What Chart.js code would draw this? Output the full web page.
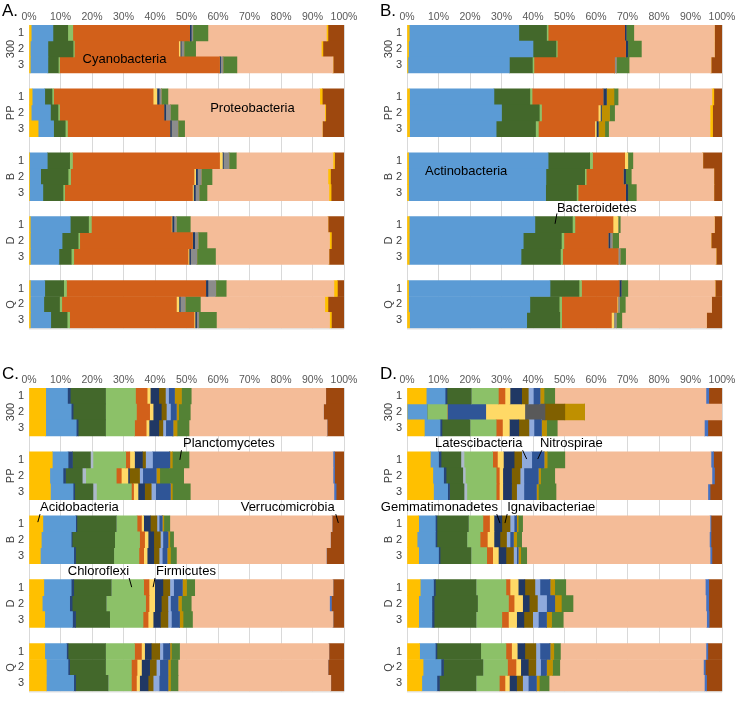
<!DOCTYPE html>
<html>
<head>
<meta charset="utf-8">
<script src="https://cdn.jsdelivr.net/npm/chart.js@4.4.0/dist/chart.umd.min.js"></script>
<style>
  body { margin: 0; background: #fff; }
  .panel { position: absolute; width: 362px; height: 340px; }
</style>
</head>
<body>
<div class="panel" style="left:0;top:0"><canvas id="chartA" width="362" height="340"></canvas></div>
<div class="panel" style="left:378px;top:0"><canvas id="chartB" width="362" height="340"></canvas></div>
<div class="panel" style="left:0;top:363px"><canvas id="chartC" width="362" height="340"></canvas></div>
<div class="panel" style="left:378px;top:363px"><canvas id="chartD" width="362" height="340"></canvas></div>
<script>
// sample groups and replicates (rows, top to bottom)
const groups = ["300", "PP", "B", "D", "Q"];
const replicates = ["1", "2", "3"];
const xTicks = [0, 10, 20, 30, 40, 50, 60, 70, 80, 90, 100];

// stack order for panels A and B
const phylaAB = ["Acidobacteria", "Actinobacteria", "Bacteroidetes", "Chloroflexi", "Cyanobacteria",
  "Firmicutes", "Gemmatimonadetes", "Other 3", "Other 4", "Planctomycetes", "Proteobacteria",
  "Other 5", "Verrucomicrobia"];

// stack order for panels C and D
const phylaCD = ["Acidobacteria", "Actinobacteria", "Other 1", "Bacteroidetes", "Other 2", "Chloroflexi",
  "Cyanobacteria", "Firmicutes", "Gemmatimonadetes", "Ignavibacteriae", "Latescibacteria", "Nitrospirae",
  "Other 7", "Other 8", "Other 9", "Other 4", "Planctomycetes", "Proteobacteria", "Other 6", "Verrucomicrobia"];

// relative abundance (%), one row per sample, values in phylaAB order
const panelA = [
  [0.7, 6.9, 4.7, 1.6, 37.1, 0, 0.5, 0.5, 0, 4.8, 37.6, 0.5, 5.1],
  [0.4, 5.6, 8.0, 0.4, 33.1, 0.5, 0.3, 0.9, 0, 3.7, 39.9, 0.5, 6.7],
  [0.4, 5.6, 3.3, 0.4, 50.8, 0, 0.3, 0.8, 0, 4.4, 30.5, 0, 3.5],
  [1.0, 4.0, 2.3, 0.5, 31.6, 1.2, 0.7, 0.7, 0, 2.1, 48.2, 0.8, 6.9],
  [0.7, 6.1, 2.4, 0.5, 33.1, 0, 0.6, 1.5, 0, 2.4, 46.6, 0.3, 5.8],
  [2.9, 4.9, 3.7, 0.7, 32.5, 0, 0.5, 2.1, 0, 2.1, 43.7, 0, 6.9],
  [0.2, 5.6, 7.1, 0.9, 46.7, 0.9, 0.3, 1.8, 0, 2.3, 30.7, 0.5, 3.0],
  [0.2, 3.5, 8.7, 0.8, 39.2, 0.5, 0.6, 1.2, 0, 3.4, 36.8, 0.8, 4.3],
  [0.2, 4.2, 6.4, 0.5, 40.6, 0.3, 0.6, 1.2, 0, 2.5, 38.7, 0.7, 4.1],
  [0.4, 12.7, 5.8, 0.9, 25.4, 0.2, 0.6, 0.8, 0, 4.4, 43.7, 0, 5.1],
  [0.4, 10.1, 5.1, 0.5, 35.8, 0, 0.7, 1.1, 0, 2.8, 38.9, 0.6, 4.0],
  [0.4, 9.1, 3.9, 0.8, 36.3, 0.3, 0.5, 2.0, 0, 5.9, 36.0, 0, 4.8],
  [0.4, 4.6, 6.0, 0.9, 44.2, 0, 0.7, 2.5, 0, 3.3, 34.2, 1.1, 2.1],
  [0.4, 4.3, 5.0, 0.7, 36.4, 0.8, 0.4, 1.6, 0, 4.8, 39.5, 1.0, 5.1],
  [0.4, 6.5, 5.2, 0.8, 39.5, 0.3, 0.5, 0.7, 0, 5.6, 35.9, 0.6, 4.0]
];

const panelB = [
  [0.7, 34.8, 8.8, 0.5, 24.3, 0, 0.5, 0, 0, 2.4, 25.6, 0, 2.4],
  [0.5, 39.5, 7.3, 0.4, 21.7, 0, 0.7, 0, 0, 4.3, 23.2, 0, 2.4],
  [0.3, 32.2, 7.3, 0.5, 25.6, 0, 0, 0.6, 0, 4.0, 26.0, 0, 3.5],
  [0.8, 26.8, 11.4, 0.7, 22.5, 0, 1.1, 0, 2.4, 1.3, 29.8, 0.6, 2.6],
  [0.8, 29.2, 12.0, 0.7, 18.0, 0.7, 0.3, 0, 2.6, 1.6, 30.3, 0.8, 3.0],
  [0.8, 27.5, 12.5, 0.9, 17.9, 0.5, 0.6, 0, 2.1, 1.2, 32.2, 0.8, 3.0],
  [0.5, 44.3, 13.2, 0.9, 10.2, 1.0, 0, 0, 0, 1.6, 22.2, 0, 6.1],
  [0.5, 43.6, 12.3, 0.5, 11.7, 0, 0.8, 0, 0, 1.8, 26.2, 0, 2.6],
  [0.5, 43.5, 9.8, 0.5, 15.1, 0, 0.7, 0, 0, 2.7, 24.6, 0, 2.6],
  [0.7, 39.9, 11.9, 0.8, 12.1, 1.6, 0, 0, 0, 0.7, 29.9, 0, 2.4],
  [0.7, 36.2, 12.1, 0.8, 14.0, 0, 0.6, 0.8, 0, 2.0, 29.3, 0, 3.5],
  [0.7, 35.5, 12.5, 0.7, 17.6, 0, 0, 0.7, 0, 1.7, 28.7, 0, 1.9],
  [0.5, 44.9, 9.2, 0.8, 11.9, 0, 0.7, 0, 0, 2.1, 27.7, 0, 2.2],
  [0.5, 38.5, 9.3, 0.8, 17.6, 0.3, 0, 0.5, 0, 1.8, 27.4, 0, 3.3],
  [0.8, 37.2, 10.5, 0.6, 15.8, 0.8, 0, 0.8, 0, 1.7, 26.9, 0, 4.9]
];

// values in phylaCD order
const panelC = [
  [5.3, 6.9, 0.9, 11.2, 0, 9.5, 3.7, 1.0, 2.7, 2.1, 1.0, 1.9, 0, 0, 0, 2.2, 3.1, 42.7, 0, 5.8],
  [5.3, 8.1, 0.6, 10.3, 0, 9.8, 4.2, 1.1, 2.6, 1.6, 1.3, 1.9, 0, 0, 0, 0.7, 3.7, 42.3, 0, 6.5],
  [5.3, 9.7, 0.6, 8.7, 0, 9.2, 3.7, 0.9, 3.1, 1.3, 0.9, 2.3, 0, 0, 0, 1.3, 3.8, 43.8, 0, 5.4],
  [7.4, 5.0, 1.4, 5.7, 0.8, 10.4, 1.3, 1.5, 2.5, 1.0, 2.2, 5.5, 0, 0, 0, 0.8, 5.3, 45.7, 0.5, 3.0],
  [6.6, 4.2, 0.8, 5.3, 1.1, 9.7, 1.6, 2.1, 0.5, 3.2, 1.0, 4.3, 0, 0, 0, 1.1, 7.6, 47.4, 0.5, 3.0],
  [6.8, 7.2, 0.5, 5.8, 1.1, 11.1, 0.7, 1.4, 2.1, 2.1, 1.4, 4.7, 0, 0, 0, 0.6, 5.7, 45.6, 0.7, 2.5],
  [4.4, 10.4, 0.4, 12.5, 0, 6.6, 1.4, 0.7, 2.1, 2.1, 0.7, 1.0, 0, 0, 0, 0.5, 1.9, 51.5, 0, 3.8],
  [3.9, 9.5, 0.3, 13.5, 0, 7.9, 1.6, 1.1, 1.8, 2.1, 0.8, 1.6, 0, 0, 0, 0.6, 1.2, 49.8, 0, 4.3],
  [3.6, 10.6, 0.6, 12.1, 0, 8.0, 1.5, 1.1, 2.1, 1.7, 1.0, 1.5, 0, 0, 0, 1.1, 1.9, 47.6, 0, 5.6],
  [4.7, 8.7, 0.8, 11.9, 0, 10.3, 1.7, 1.8, 2.6, 2.2, 1.2, 2.8, 0, 0, 0, 1.3, 2.6, 43.9, 0, 3.5],
  [4.2, 8.7, 0.8, 10.8, 0, 12.5, 1.1, 1.8, 2.1, 2.1, 0.8, 2.4, 0, 0, 0, 1.1, 3.1, 43.9, 0.6, 4.0],
  [5.0, 8.8, 1.0, 10.8, 0, 10.6, 1.6, 1.6, 2.3, 2.4, 1.1, 2.6, 0, 0, 0, 1.1, 3.0, 44.6, 0, 3.5],
  [5.0, 6.9, 0.5, 11.9, 0, 9.2, 2.2, 1.0, 2.1, 2.7, 1.0, 2.2, 0, 0, 0, 0.5, 2.6, 47.4, 0, 4.8],
  [5.5, 6.9, 0.5, 11.4, 0, 8.2, 1.8, 1.4, 2.6, 2.1, 1.1, 2.6, 0, 0, 0, 0.8, 2.4, 47.6, 0, 5.1],
  [5.5, 8.7, 0.6, 10.3, 0, 7.4, 1.6, 1.0, 2.7, 1.6, 1.9, 2.8, 0, 0, 0, 0.8, 2.4, 48.5, 0, 4.2]
];

const panelD = [
  [6.1, 6.0, 0.6, 7.7, 0, 8.6, 2.1, 1.6, 3.7, 2.1, 1.6, 2.1, 0, 0, 0, 1.3, 3.4, 48.0, 0.9, 4.2],
  [0, 6.3, 0, 0, 0, 6.4, 0, 0, 0, 0, 0, 12.3, 12.4, 6.4, 6.3, 6.3, 0, 43.6, 0, 0],
  [5.5, 5.0, 0.6, 8.9, 0, 8.3, 2.0, 2.2, 3.0, 3.2, 1.6, 2.4, 0, 0, 0, 1.6, 3.4, 46.7, 1.1, 4.5],
  [7.4, 2.6, 0.8, 6.3, 1.0, 9.1, 1.5, 1.9, 3.4, 2.4, 3.2, 3.9, 0, 0, 0, 1.0, 5.6, 46.4, 0.8, 2.7],
  [8.2, 3.4, 0.8, 5.3, 0.8, 9.8, 1.0, 1.1, 2.8, 2.7, 1.2, 4.6, 0, 0, 0, 0.7, 4.5, 49.9, 0.8, 2.4],
  [8.4, 4.5, 0.6, 4.6, 0.9, 9.3, 1.0, 1.1, 2.8, 1.6, 2.3, 4.0, 0, 0, 0, 0.6, 5.6, 48.2, 0.7, 3.8],
  [3.7, 5.3, 0.5, 10.0, 0, 4.6, 2.1, 1.4, 2.5, 2.6, 1.3, 0.8, 0, 0, 0, 0.5, 1.4, 59.5, 0.3, 3.5],
  [3.2, 5.8, 0.5, 9.5, 0, 4.2, 2.3, 2.1, 1.9, 2.1, 1.1, 1.1, 0, 0, 0, 1.0, 1.6, 59.6, 0.5, 3.5],
  [3.7, 6.3, 0.5, 9.8, 0, 5.0, 1.9, 1.8, 2.4, 2.4, 1.0, 0.5, 0, 0, 0, 0.8, 1.9, 58.2, 0.6, 3.2],
  [4.2, 4.2, 0.6, 12.9, 0, 9.5, 1.3, 2.6, 2.1, 3.2, 1.6, 3.2, 0, 0, 0, 1.5, 3.5, 44.3, 1.1, 4.2],
  [3.7, 4.2, 0.7, 13.8, 0, 9.8, 1.8, 2.7, 2.1, 2.6, 2.9, 2.6, 0, 0, 0, 2.1, 3.7, 42.2, 0.9, 4.2],
  [3.7, 4.2, 0.7, 13.3, 0, 8.2, 2.1, 2.6, 2.3, 2.8, 1.8, 2.6, 0, 0, 0, 1.6, 3.7, 45.5, 0.8, 4.1],
  [4.0, 5.0, 0.5, 13.9, 0, 8.0, 1.8, 1.8, 2.4, 3.5, 1.3, 3.2, 0, 0, 0, 1.2, 2.1, 46.2, 0.6, 4.5],
  [5.1, 5.7, 0.8, 12.5, 0, 7.8, 2.7, 1.5, 2.4, 2.4, 1.5, 1.9, 0, 0, 0, 1.9, 2.3, 45.6, 0.6, 5.3],
  [4.7, 4.8, 0.8, 11.6, 0, 7.4, 1.8, 1.4, 2.3, 1.9, 1.8, 2.6, 0, 0, 0, 0.9, 3.1, 49.3, 0.7, 4.9]
];

const phylumColors = {
  "Acidobacteria": "#FFC000", "Actinobacteria": "#5B9BD5", "Other 1": "#264478",
  "Bacteroidetes": "#43682B", "Other 2": "#ADB9CA", "Chloroflexi": "#8CC168",
  "Cyanobacteria": "#D2601A", "Firmicutes": "#FFD966", "Gemmatimonadetes": "#203864",
  "Other 3": "#8C8C8C", "Ignavibacteriae": "#7F6000", "Latescibacteria": "#8FAADC",
  "Nitrospirae": "#2F5597", "Other 4": "#BF9000", "Planctomycetes": "#548235",
  "Proteobacteria": "#F4BC98", "Other 5": "#FFC000", "Other 6": "#4472C4",
  "Other 7": "#FFD966", "Other 8": "#595959", "Other 9": "#806000",
  "Verrucomicrobia": "#9E480E"
};

// callout labels: x in %, y as fractional row slot; optional leader line
const notesA = [
  { text: "Cyanobacteria", x: 17, y: 1.66 },
  { text: "Proteobacteria", x: 57.5, y: 4.7 }
];
const notesB = [
  { text: "Actinobacteria", x: 5.7, y: 8.7 },
  { text: "Bacteroidetes", x: 47.6, y: 11, line: [47.6, 11.3, 47.0, 11.95] }
];
const notesC = [
  { text: "Planctomycetes", x: 48.9, y: 3, line: [48.4, 3.4, 47.9, 4.0] },
  { text: "Acidobacteria", x: 3.5, y: 7, line: [3.5, 7.4, 2.8, 7.9] },
  { text: "Verrucomicrobia", x: 67.2, y: 7, line: [97.4, 7.4, 98.2, 7.95] },
  { text: "Chloroflexi", x: 12.3, y: 11, line: [31.8, 11.4, 32.6, 11.97] },
  { text: "Firmicutes", x: 40.3, y: 11, line: [40.0, 11.4, 39.4, 11.97] }
];
const notesD = [
  { text: "Latescibacteria", x: 8.9, y: 3, line: [36.7, 3.4, 38.0, 3.95] },
  { text: "Nitrospirae", x: 42.2, y: 3, line: [42.8, 3.4, 41.5, 3.95] },
  { text: "Gemmatimonadetes", x: -8.3, y: 7, line: [28.5, 7.4, 29.5, 7.96] },
  { text: "Ignavibacteriae", x: 31.8, y: 7, line: [31.8, 7.4, 31.1, 7.96] }
];

Chart.defaults.font.family = "'Liberation Sans', Arial, sans-serif";

// 19 row slots: 3 replicates per group with an empty slot between groups
function buildSlots() {
  const slots = [];
  groups.forEach((g, gi) => {
    replicates.forEach((r, ri) => slots.push({ label: r, row: gi * 3 + ri }));
    if (gi < groups.length - 1) slots.push({ label: "", row: null });
  });
  return slots;
}

const panelDecor = {
  id: "panelDecor",
  afterDraw(chart, args, opts) {
    const ctx = chart.ctx;
    const xs = chart.scales.x;
    const ys = chart.scales.y;
    const area = chart.chartArea;
    ctx.save();
    // bottom rule
    ctx.strokeStyle = "#D9D9D9";
    ctx.lineWidth = 1;
    ctx.beginPath();
    ctx.moveTo(area.left, area.bottom + 0.5);
    ctx.lineTo(area.right, area.bottom + 0.5);
    ctx.stroke();
    // panel letter
    ctx.fillStyle = "#000";
    ctx.font = "17px 'Liberation Sans', Arial, sans-serif";
    ctx.textAlign = "left";
    ctx.textBaseline = "alphabetic";
    ctx.fillText(opts.letter, 2, 16);
    // group labels, rotated
    ctx.font = "11px 'Liberation Sans', Arial, sans-serif";
    ctx.fillStyle = "#404040";
    ctx.textAlign = "center";
    ctx.textBaseline = "middle";
    groups.forEach((g, gi) => {
      const y = ys.getPixelForValue(gi * 4 + 1);
      ctx.save();
      ctx.translate(11, y);
      ctx.rotate(-Math.PI / 2);
      ctx.fillText(g, 0, 0);
      ctx.restore();
    });
    // callouts
    ctx.font = "13px 'Liberation Sans', Arial, sans-serif";
    ctx.fillStyle = "#000";
    ctx.strokeStyle = "#000";
    ctx.textAlign = "left";
    opts.notes.forEach(n => {
      ctx.fillText(n.text, xs.getPixelForValue(n.x), ys.getPixelForValue(n.y));
      if (n.line) {
        ctx.beginPath();
        ctx.moveTo(xs.getPixelForValue(n.line[0]), ys.getPixelForValue(n.line[1]));
        ctx.lineTo(xs.getPixelForValue(n.line[2]), ys.getPixelForValue(n.line[3]));
        ctx.stroke();
      }
    });
    ctx.restore();
  }
};

function makeChart(id, letter, phyla, rows, notes) {
  const slots = buildSlots();
  const datasets = phyla.map((name, j) => ({
    label: name,
    data: slots.map(s => (s.row === null ? null : rows[s.row][j])),
    backgroundColor: phylumColors[name],
    borderWidth: 0,
    barPercentage: 1,
    categoryPercentage: 1
  }));

  return new Chart(document.getElementById(id), {
    type: "bar",
    data: { labels: slots.map(s => s.label), datasets },
    plugins: [panelDecor],
    options: {
      indexAxis: "y",
      responsive: false,
      animation: false,
      layout: { padding: { left: 0, right: 18, top: 0, bottom: 7 } },
      scales: {
        x: {
          position: "top",
          stacked: true,
          min: 0,
          max: 100,
          afterBuildTicks: scale => { scale.ticks = xTicks.map(v => ({ value: v })); },
          afterFit: scale => { scale.height = 25; },
          ticks: {
            padding: 2, color: "#595959", font: { size: 10.5 },
            maxRotation: 0, minRotation: 0, autoSkip: false,
            callback: v => v + "%"
          },
          grid: { color: "#D9D9D9", drawTicks: false },
          border: { display: false }
        },
        y: {
          stacked: true,
          afterFit: scale => { scale.width = 29; },
          ticks: { autoSkip: false, padding: 5, color: "#404040", font: { size: 11 } },
          grid: { display: false, drawTicks: false },
          border: { display: false }
        }
      },
      plugins: {
        legend: { display: false },
        tooltip: { enabled: false },
        panelDecor: { letter, notes }
      }
    }
  });
}

makeChart("chartA", "A.", phylaAB, panelA, notesA);
makeChart("chartB", "B.", phylaAB, panelB, notesB);
makeChart("chartC", "C.", phylaCD, panelC, notesC);
makeChart("chartD", "D.", phylaCD, panelD, notesD);
</script>
</body>
</html>
